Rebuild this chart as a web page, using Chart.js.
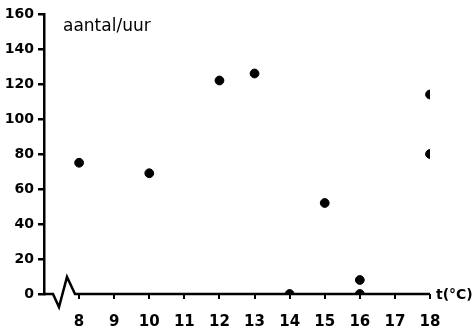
<!DOCTYPE html>
<html>
<head>
<meta charset="utf-8">
<script src="https://cdn.jsdelivr.net/npm/chart.js@4/dist/chart.umd.min.js"></script>
<style>
  html, body { margin: 0; padding: 0; background: #fff; }
  #wrap { width: 473px; height: 330px; }
</style>
</head>
<body>
<div id="wrap"><canvas id="chart" width="473" height="330"></canvas></div>
<script>
// temperatuur (x) en aantal/uur (y)
var temps  = [8, 10, 12, 13, 14, 15, 16, 16, 18, 18];
var counts = [75, 69, 122, 126, 0, 52, 0, 8, 114, 80];
var yTicks = [0, 20, 40, 60, 80, 100, 120, 140, 160];
var xTicks = [8, 9, 10, 11, 12, 13, 14, 15, 16, 17, 18];

var points = [];
for (var i = 0; i < temps.length; i++) {
  points.push({ x: temps[i], y: counts[i] });
}

var axisFont = { family: "DejaVu Sans", weight: "bold", size: 14 };

// x-as met onderbreking (zigzag) en de labels
var axisDeco = {
  id: 'axisDeco',
  beforeDatasetsDraw: function (chart) {
    var ctx = chart.ctx;
    var x0 = chart.scales.x.getPixelForValue(7);
    var x1 = chart.scales.x.getPixelForValue(18);
    var y0 = chart.scales.y.getPixelForValue(0);
    ctx.save();
    ctx.strokeStyle = '#000';
    ctx.lineWidth = 2.5;
    ctx.lineJoin = 'miter';
    ctx.beginPath();
    ctx.moveTo(x0, y0);
    ctx.lineTo(x0 + 9, y0);
    ctx.lineTo(x0 + 15, y0 + 13);
    ctx.lineTo(x0 + 23, y0 - 17);
    ctx.lineTo(x0 + 31, y0);
    ctx.lineTo(x1, y0);
    ctx.stroke();
    ctx.restore();
  },
  afterDraw: function (chart) {
    var ctx = chart.ctx;
    var y0 = chart.scales.y.getPixelForValue(0);
    var x1 = chart.scales.x.getPixelForValue(18);
    ctx.save();
    ctx.fillStyle = '#000';
    ctx.textBaseline = 'middle';
    ctx.font = 'bold 14px "DejaVu Sans"';
    ctx.fillText('t(°C)', x1 + 6, y0 + 1);
    ctx.font = '17px "DejaVu Sans"';
    ctx.textBaseline = 'alphabetic';
    ctx.fillText('aantal/uur', chart.chartArea.left + 19, 31);
    ctx.restore();
  }
};

new Chart(document.getElementById("chart"), {
  type: 'scatter',
  data: {
    datasets: [
      {
        label: "aantal/uur",
        data: points,
        backgroundColor: "#000",
        borderColor: "#000",
        pointRadius: 4.4,
        pointHoverRadius: 4.4
      }
    ]
  },
  options: {
    responsive: false,
    animation: false,
    layout: { padding: { top: 14, right: 43, left: 0, bottom: 0 } },
    plugins: {
      legend: { display: false },
      tooltip: { enabled: false }
    },
    scales: {
      x: {
        type: 'linear',
        min: 7,
        max: 18,
        afterFit: function (scale) { scale.height = 36; },
        afterBuildTicks: function (scale) {
          scale.ticks = [{ value: 7 }].concat(xTicks.map(function (v) { return { value: v }; }));
        },
        ticks: {
          color: '#000',
          font: { family: "DejaVu Sans", weight: "bold", size: 15 },
          padding: 14,
          maxRotation: 0,
          autoSkip: false,
          callback: function (v) { return v === 7 ? '' : v; }
        },
        grid: {
          drawOnChartArea: false,
          drawTicks: true,
          tickLength: 5,
          lineWidth: 2,
          color: function (c) { return c.tick && c.tick.value === 7 ? 'rgba(0,0,0,0)' : '#000'; }
        },
        border: { display: false }
      },
      y: {
        min: 0,
        max: 160,
        afterFit: function (scale) { scale.width = 44; },
        afterBuildTicks: function (scale) {
          scale.ticks = yTicks.map(function (v) { return { value: v }; });
        },
        ticks: {
          color: '#000',
          font: axisFont,
          padding: 4
        },
        grid: {
          drawOnChartArea: false,
          drawTicks: true,
          tickLength: 6,
          lineWidth: 2.5,
          color: '#000'
        },
        border: { display: true, color: '#000', width: 2.5 }
      }
    }
  },
  plugins: [axisDeco]
});
</script>
</body>
</html>
